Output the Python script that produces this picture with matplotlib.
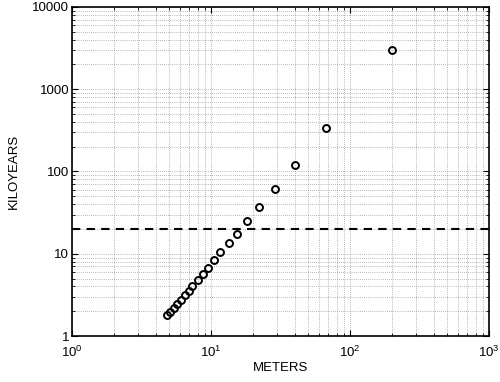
import matplotlib
matplotlib.use('Agg')
import matplotlib.pyplot as plt
from matplotlib.ticker import LogLocator, FuncFormatter, NullFormatter

# data
meters = [4.84, 5.08, 5.38, 5.68, 6.10, 6.52, 6.89, 7.36, 8.0, 8.69, 9.53,
          10.5, 11.7, 13.4, 15.4, 18.2, 22.2, 28.7, 40.0, 66.8, 201]
kiloyears = [1.79, 1.96, 2.17, 2.45, 2.76, 3.15, 3.56, 4.09, 4.80, 5.67, 6.77,
             8.32, 10.4, 13.4, 17.5, 24.8, 37.3, 61.3, 121, 335, 3000]
threshold = 20

plt.rcParams.update({
    'font.family': ['Liberation Sans', 'DejaVu Sans'],
    'font.size': 9.5,
    'mathtext.default': 'regular',
    'xtick.direction': 'in',
    'ytick.direction': 'in',
    'xtick.top': True,
    'ytick.right': True,
})

fig = plt.figure(figsize=(5, 3.82), dpi=100)
ax = fig.add_axes([0.144, 0.1204, 0.834, 0.8613])

ax.set_xscale('log')
ax.set_yscale('log')
ax.set_xlim(1, 1000)
ax.set_ylim(1, 10000)

ax.axhline(threshold, color='black', linestyle=(0, (4, 3)), linewidth=1.5)
ax.plot(meters, kiloyears, linestyle='none', marker='o', markersize=5,
        markerfacecolor='none', markeredgecolor='black', markeredgewidth=1.4)

ax.xaxis.set_major_locator(LogLocator(base=10))
ax.yaxis.set_major_locator(LogLocator(base=10))
ax.yaxis.set_major_formatter(FuncFormatter(lambda v, p: f'{v:.0f}'))
ax.xaxis.set_minor_formatter(NullFormatter())
ax.yaxis.set_minor_formatter(NullFormatter())

ax.grid(True, which='both', linestyle=(0, (1, 2)), color='#777777',
        linewidth=0.5)
ax.tick_params(axis='x', which='major', pad=6)
ax.tick_params(axis='y', which='major', pad=2)
ax.tick_params(which='major', length=4, width=0.8)
ax.tick_params(which='minor', length=2, width=0.6)
for s in ax.spines.values():
    s.set_linewidth(1.2)

ax.set_xlabel('METERS', labelpad=2)
ax.set_ylabel('KILOYEARS', labelpad=9)

plt.savefig('out.png', dpi=100)
